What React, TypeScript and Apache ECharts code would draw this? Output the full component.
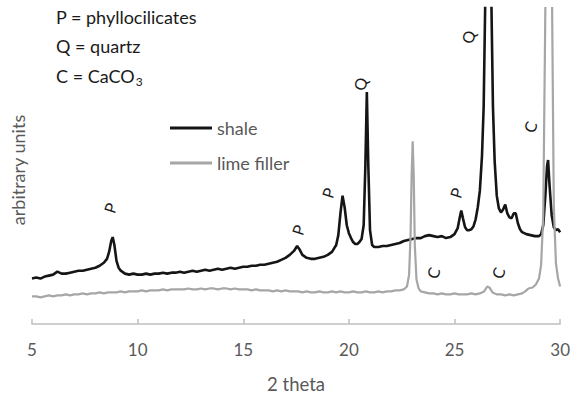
import React, { useEffect, useRef } from "react";
import * as echarts from "echarts";

const xTicks = [5, 10, 15, 20, 25, 30];

// [2 theta, intensity (arbitrary units)]
const shale: [number, number][] = [
  [5.0, 46], [5.2, 47], [5.4, 46], [5.6, 48], [5.8, 49], [6.0, 50], [6.2, 53], [6.4, 51], [6.6, 51], [6.8, 52],
  [7.0, 53], [7.2, 54], [7.4, 54], [7.6, 55], [7.8, 56], [8.0, 57], [8.2, 59], [8.4, 62], [8.55, 66], [8.65, 73],
  [8.75, 84], [8.82, 88], [8.9, 80], [9.0, 64], [9.1, 57], [9.2, 54], [9.4, 51], [9.6, 50], [9.8, 51], [10.0, 50],
  [10.2, 50], [10.4, 51], [10.6, 50], [10.8, 51], [11.0, 51], [11.2, 52], [11.4, 51], [11.6, 52], [11.8, 52], [12.0, 53],
  [12.2, 52], [12.4, 53], [12.6, 54], [12.8, 53], [13.0, 54], [13.2, 55], [13.4, 54], [13.6, 55], [13.8, 56], [14.0, 55],
  [14.2, 56], [14.4, 57], [14.6, 56], [14.8, 57], [15.0, 58], [15.2, 58], [15.4, 59], [15.6, 59], [15.8, 60], [16.0, 60],
  [16.2, 61], [16.4, 62], [16.6, 63], [16.8, 65], [17.0, 67], [17.2, 70], [17.4, 74], [17.55, 79], [17.65, 76], [17.8, 70],
  [18.0, 67], [18.2, 66], [18.4, 66], [18.6, 67], [18.8, 68], [19.0, 70], [19.2, 73], [19.4, 80], [19.5, 90], [19.6, 112],
  [19.7, 130], [19.8, 118], [19.9, 100], [20.0, 92], [20.1, 87], [20.2, 83], [20.3, 81], [20.4, 81], [20.5, 83], [20.6, 86],
  [20.7, 100], [20.78, 160], [20.85, 235], [20.92, 160], [21.0, 95], [21.1, 80], [21.2, 78], [21.4, 78], [21.6, 79], [21.8, 79],
  [22.0, 80], [22.2, 81], [22.4, 82], [22.6, 84], [22.8, 85], [23.0, 86], [23.2, 87], [23.4, 87], [23.6, 89], [23.8, 90],
  [24.0, 89], [24.2, 88], [24.4, 89], [24.6, 87], [24.8, 88], [25.0, 91], [25.15, 97], [25.25, 108], [25.32, 115], [25.4, 107],
  [25.5, 98], [25.6, 95], [25.7, 95], [25.8, 96], [25.9, 99], [26.0, 106], [26.1, 118], [26.2, 135], [26.3, 170], [26.38, 220],
  [26.45, 320], [26.52, 430], [26.6, 500], [26.68, 430], [26.75, 320], [26.82, 220], [26.9, 165], [27.0, 130], [27.1, 117], [27.2, 113],
  [27.3, 116], [27.4, 121], [27.5, 112], [27.6, 108], [27.7, 107], [27.8, 112], [27.9, 112], [28.0, 102], [28.1, 96], [28.2, 93],
  [28.4, 91], [28.6, 90], [28.8, 89], [29.0, 89], [29.1, 91], [29.2, 100], [29.3, 130], [29.38, 160], [29.43, 166], [29.5, 140],
  [29.6, 110], [29.7, 98], [29.8, 95], [29.9, 96], [30.0, 93],
];

const limeFiller: [number, number][] = [
  [5.0, 28], [5.2, 28], [5.4, 27], [5.6, 28], [5.8, 29], [6.0, 28], [6.2, 29], [6.4, 29], [6.6, 30], [6.8, 29],
  [7.0, 30], [7.2, 30], [7.4, 31], [7.6, 30], [7.8, 31], [8.0, 31], [8.2, 32], [8.4, 31], [8.6, 32], [8.8, 32],
  [9.0, 32], [9.2, 33], [9.4, 32], [9.6, 33], [9.8, 33], [10.0, 33], [10.2, 34], [10.4, 33], [10.6, 34], [10.8, 34],
  [11.0, 34], [11.2, 35], [11.4, 34], [11.6, 35], [11.8, 35], [12.0, 35], [12.2, 35], [12.4, 36], [12.6, 35], [12.8, 35],
  [13.0, 36], [13.2, 35], [13.4, 36], [13.6, 36], [13.8, 35], [14.0, 36], [14.2, 36], [14.4, 35], [14.6, 36], [14.8, 35],
  [15.0, 35], [15.2, 35], [15.4, 34], [15.6, 35], [15.8, 34], [16.0, 34], [16.2, 34], [16.4, 33], [16.6, 34], [16.8, 33],
  [17.0, 34], [17.2, 33], [17.4, 33], [17.6, 33], [17.8, 32], [18.0, 33], [18.2, 32], [18.4, 32], [18.6, 33], [18.8, 32],
  [19.0, 32], [19.2, 33], [19.4, 32], [19.6, 33], [19.8, 32], [20.0, 32], [20.2, 33], [20.4, 32], [20.6, 32], [20.8, 33],
  [21.0, 32], [21.2, 32], [21.4, 33], [21.6, 32], [21.8, 33], [22.0, 33], [22.2, 34], [22.4, 34], [22.6, 35], [22.75, 38],
  [22.85, 50], [22.92, 90], [22.97, 150], [23.02, 185], [23.07, 150], [23.12, 80], [23.2, 45], [23.3, 36], [23.4, 33], [23.6, 32],
  [23.8, 31], [24.0, 31], [24.2, 30], [24.4, 31], [24.6, 30], [24.8, 30], [25.0, 31], [25.2, 30], [25.4, 30], [25.6, 30],
  [25.8, 31], [26.0, 30], [26.2, 31], [26.4, 33], [26.55, 38], [26.65, 37], [26.8, 32], [27.0, 30], [27.2, 30], [27.4, 29],
  [27.6, 30], [27.8, 29], [28.0, 30], [28.2, 31], [28.35, 33], [28.5, 36], [28.7, 37], [28.85, 40], [29.0, 46], [29.1, 60],
  [29.2, 110], [29.3, 320], [29.37, 450], [29.45, 520], [29.53, 450], [29.62, 320], [29.7, 120], [29.8, 62], [29.9, 46], [30.0, 38],
];

const keyLines = ["{a|P = phyllocilicates}", "{a|Q = quartz}", "{a|C = CaCO}{b|3}"];
const peakLabels = ["P", "P", "P", "Q", "P", "Q", "C", "C", "C"];

const FONT = "Lato, 'Open Sans', sans-serif";

export default function App() {
  const ref = useRef<HTMLDivElement>(null);

  useEffect(() => {
    if (!ref.current) return;
    const chart = echarts.init(ref.current, undefined, { renderer: "svg" });

    const labelPos: [number, number][] = [
      [110, 208], [298, 230], [328, 193], [360, 84], [456, 193], [468, 37], [530, 127], [433, 273], [498, 273],
    ];

    const graphics: any[] = [];
    keyLines.forEach((t, i) => {
      graphics.push({
        type: "text",
        x: 56,
        y: 17 + i * 29.3,
        style: {
          text: t,
          verticalAlign: "middle",
          rich: {
            a: { fontSize: 18, fontFamily: FONT, fill: "#1a1a1a", color: "#1a1a1a" },
            b: { fontSize: 12, fontFamily: FONT, fill: "#1a1a1a", color: "#1a1a1a", padding: [11, 0, 0, 1] },
          },
        },
      });
    });
    graphics.push({
      type: "text",
      x: 18,
      y: 170,
      rotation: Math.PI / 2,
      style: {
        text: "arbitrary units",
        font: `18px ${FONT}`,
        fill: "#595959",
        align: "center",
        verticalAlign: "middle",
      },
    });
    peakLabels.forEach((t, i) => {
      graphics.push({
        type: "text",
        x: labelPos[i][0],
        y: labelPos[i][1],
        rotation: 1.25,
        style: {
          text: t,
          font: `16px ${FONT}`,
          fill: "#1a1a1a",
          align: "center",
          verticalAlign: "middle",
        },
      });
    });

    chart.setOption({
      animation: false,
      backgroundColor: "#ffffff",
      grid: { left: 32, right: 11, top: 8, bottom: 70 },
      legend: {
        orient: "vertical",
        left: 165,
        top: 112,
        icon: "rect",
        itemWidth: 42,
        itemHeight: 3,
        itemGap: 13,
        data: ["shale", "lime filler"],
        textStyle: { color: "#595959", fontSize: 18, fontFamily: FONT, lineHeight: 22 },
      },
      xAxis: {
        type: "value",
        min: 5,
        max: 30,
        interval: 5,
        name: "2 theta",
        nameLocation: "middle",
        nameGap: 50,
        nameTextStyle: { color: "#595959", fontSize: 18.5, fontFamily: FONT },
        axisLine: { show: true, lineStyle: { color: "#bfbfbf", width: 1.5 } },
        axisTick: { show: true, inside: true, length: 5, lineStyle: { color: "#bfbfbf", width: 1.5 } },
        axisLabel: {
          color: "#595959",
          fontSize: 17,
          fontFamily: FONT,
          margin: 17,
          formatter: (v: number) => (xTicks.includes(v) ? String(v) : ""),
        },
        splitLine: { show: false },
      },
      yAxis: {
        type: "value",
        min: 0,
        max: 320,
        axisLine: { show: false },
        axisTick: { show: false },
        axisLabel: { show: false },
        splitLine: { show: false },
      },
      series: [
        {
          name: "shale",
          type: "line",
          data: shale,
          symbol: "none",
          lineStyle: { color: "#151515", width: 2.6 },
          itemStyle: { color: "#151515" },
        },
        {
          name: "lime filler",
          type: "line",
          data: limeFiller,
          symbol: "none",
          lineStyle: { color: "#a6a6a6", width: 2.2 },
          itemStyle: { color: "#a6a6a6" },
        },
      ],
      graphic: graphics,
    });

    return () => chart.dispose();
  }, []);

  return <div ref={ref} style={{ width: 573, height: 398, position: "absolute", left: 0, top: 0 }} />;
}
